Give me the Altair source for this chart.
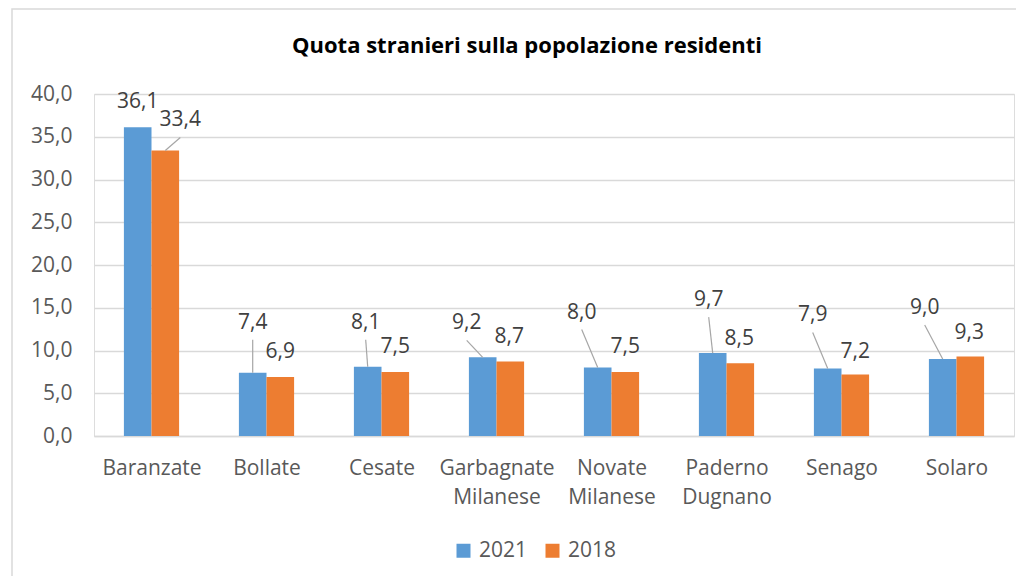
import json
import altair as alt
import pandas as pd

# ---------------- data ----------------
categories = ["Baranzate", "Bollate", "Cesate", "Garbagnate Milanese",
              "Novate Milanese", "Paderno Dugnano", "Senago", "Solaro"]
series = ["2021", "2018"]
values_2021 = [36.1, 7.4, 8.1, 9.2, 8.0, 9.7, 7.9, 9.0]
values_2018 = [33.4, 6.9, 7.5, 8.7, 7.5, 8.5, 7.2, 9.3]
y_ticks = [0, 5, 10, 15, 20, 25, 30, 35, 40]

# data-label placement (pixels, relative to the top centre of each bar)
label_dx_2021 = [0, 0, -2, -16, -16, -4, -15, -18]
label_dy_2021 = [-25, -50, -44, -34, -55, -53, -53, -51]
label_dx_2018 = [15, 0, 0, -1, 0, -1, 0, -1]
label_dy_2018 = [-30, -25, -25, -25, -25, -24, -22, -23]
leader_2021 = [False, True, True, True, True, True, True, True]
leader_2018 = [True, False, False, False, False, False, False, False]

colors = ["#5B9BD5", "#ED7D31"]

# ---------------- layout ----------------
W, H = 920, 342
X_DOMAIN = [-0.5, len(categories) - 0.5]
Y_DOMAIN = [0, 40]
PX_X = W / (X_DOMAIN[1] - X_DOMAIN[0])
PX_Y = H / (Y_DOMAIN[1] - Y_DOMAIN[0])
BAR_W = 0.24
FONT = "Open Sans"
FS = 21

rows = []
for s, vals, dxs, dys, leads, off in [
    ("2021", values_2021, label_dx_2021, label_dy_2021, leader_2021, -BAR_W),
    ("2018", values_2018, label_dx_2018, label_dy_2018, leader_2018, 0.0),
]:
    for i, (v, dx, dy, ld) in enumerate(zip(vals, dxs, dys, leads)):
        x0 = i + off
        x1 = x0 + BAR_W
        xc = (x0 + x1) / 2
        lx = xc + dx / PX_X
        ly = v - dy / PX_Y
        rows.append(dict(
            cat=categories[i], series=s, value=v, zero=0,
            x0=x0, x1=x1, xc=xc, lx=lx, ly=ly,
            lstart=ly - 17 / PX_Y, leader=ld,
            label=f"{v:.1f}".replace(".", ","),
        ))
df = pd.DataFrame(rows)

xlabel_expr = json.dumps([c.split(" ") for c in categories]) + "[datum.value]"

xscale = alt.Scale(domain=X_DOMAIN, nice=False, zero=False)
yscale = alt.Scale(domain=Y_DOMAIN, nice=False)

base = alt.Chart(df)

border = alt.Chart(pd.DataFrame({"a": [0]})).mark_rect(
    fill="white", fillOpacity=0, stroke="#d9d9d9", strokeWidth=1.5
).encode(
    x=alt.value(-82), x2=alt.value(W + 40),
    y=alt.value(-85), y2=alt.value(H + 200),
)

bars = base.mark_rect().encode(
    x=alt.X("x0:Q", scale=xscale, title=None,
            axis=alt.Axis(values=list(range(len(categories))),
                          labelExpr=xlabel_expr, grid=False, ticks=False,
                          domainColor="#d9d9d9", domainWidth=1.5,
                          labelFlush=False, labelOverlap=False, labelBound=False,
                          labelFont=FONT, labelFontSize=FS, labelColor="#595959",
                          labelPadding=21, labelLineHeight=29, labelBaseline="top")),
    x2="x1",
    y=alt.Y("value:Q", scale=yscale, title=None,
            axis=alt.Axis(values=y_ticks,
                          labelExpr="replace(format(datum.value, '.1f'), '.', ',')",
                          grid=True, gridColor="#d9d9d9", gridWidth=1.5,
                          domain=False, ticks=False, labelPadding=22,
                          labelFont=FONT, labelFontSize=FS, labelColor="#595959")),
    y2="zero",
    color=alt.Color("series:N", scale=alt.Scale(domain=series, range=colors),
                    legend=alt.Legend(orient="none", legendX=359, legendY=446,
                                      direction="horizontal", title=None,
                                      symbolType="square", symbolSize=196,
                                      symbolStrokeWidth=0, columnPadding=14,
                                      labelOffset=5, labelFont=FONT,
                                      labelFontSize=FS, labelColor="#595959",
                                      padding=0)),
)

leaders = base.transform_filter("datum.leader").mark_rule(
    color="#a6a6a6", strokeWidth=1.2
).encode(
    x=alt.X("lx:Q", scale=xscale, title=None),
    x2="xc",
    y=alt.Y("lstart:Q", scale=yscale, title=None),
    y2="value",
)

labels = base.mark_text(
    font=FONT, fontSize=FS, color="#404040", baseline="middle", align="center"
).encode(
    x=alt.X("lx:Q", scale=xscale, title=None),
    y=alt.Y("ly:Q", scale=yscale, title=None),
    text="label:N",
)

chart = alt.layer(border, bars, leaders, labels).properties(
    width=W, height=H,
    title=alt.TitleParams("Quota stranieri sulla popolazione residenti",
                          font=FONT, fontSize=22, fontWeight="bold",
                          color="black", anchor="middle", frame="group",
                          dx=-27, offset=-67, baseline="alphabetic"),
    autosize=alt.AutoSizeParams(type="none"),
    padding={"left": 86, "top": 86, "right": 2, "bottom": 140},
).configure_view(stroke=None).configure(background="white")

chart.save("out.html", embed_options={"renderer": "svg", "actions": False})
